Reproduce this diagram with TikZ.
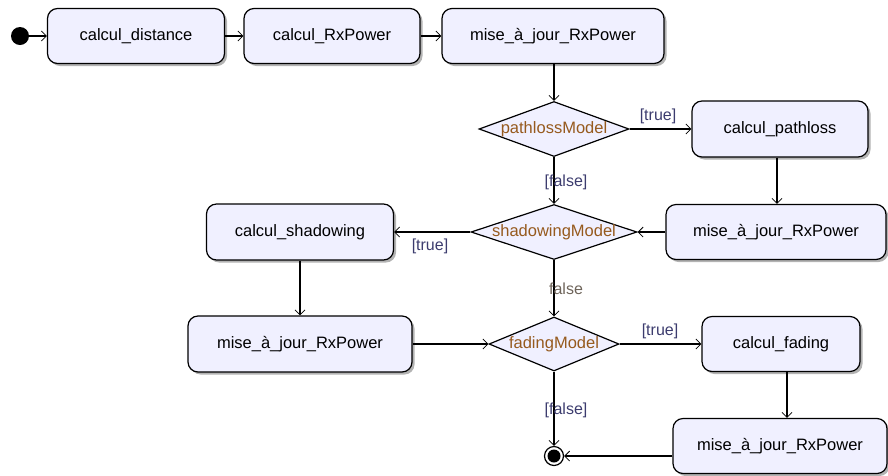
\documentclass[tikz,border=0pt]{standalone}
\usepackage{fontspec}
\setmainfont{Liberation Sans}
\usetikzlibrary{shapes.geometric,arrows.meta,shadows}
\definecolor{boxfill}{RGB}{240,240,255}
\definecolor{decis}{RGB}{150,90,30}
\definecolor{guard}{RGB}{60,60,110}
\definecolor{guardg}{RGB}{110,100,90}
\begin{document}
\begin{tikzpicture}[x=1pt,y=-1pt,
  box/.style={draw, line width=1.2pt, rounded corners=10pt, fill=boxfill,
    drop shadow={shadow xshift=2.5pt,shadow yshift=-2.5pt,fill=black!50,opacity=0.6},
    font=\fontsize{16.5}{19}\selectfont, inner sep=0pt, minimum height=55pt},
  decision/.style={draw, line width=1.2pt, diamond, fill=boxfill, inner sep=0pt,
    minimum height=55pt},
  dtext/.style={text=decis, font=\fontsize{16.5}{19}\selectfont, inner sep=0pt},
  arr/.style={line width=1.1pt, -{Straight Barb[length=5pt,width=10pt,line width=0.8pt]}},
  guardlbl/.style={font=\fontsize{16}{19}\selectfont, text=guard, inner sep=0pt}
]
\useasboundingbox (0,0) rectangle (888,475);

\fill (20,36) circle (9pt);
\node[circle, inner sep=0pt, minimum size=18pt] (ini) at (20,36) {};

\node[box, minimum width=177pt] (d) at (136,36) {calcul\_distance};
\node[box, minimum width=176pt] (rx) at (332,36) {calcul\_RxPower};
\node[box, minimum width=222pt] (m1) at (553,36) {mise\_à\_jour\_RxPower};

\node[decision, minimum width=150pt] (pl) at (554,129) {};
\node[dtext] at (pl) {pathlossModel};
\node[box, minimum width=176pt, minimum height=56pt] (cp) at (780,129) {calcul\_pathloss};
\node[box, minimum width=220pt] (m2) at (776,232) {mise\_à\_jour\_RxPower};

\node[decision, minimum width=166pt] (sh) at (554,232) {};
\node[dtext] at (sh) {shadowingModel};
\node[box, minimum width=187pt, minimum height=56pt] (cs) at (300,232) {calcul\_shadowing};
\node[box, minimum width=224pt, minimum height=56pt] (m3) at (300,344) {mise\_à\_jour\_RxPower};

\node[decision, minimum width=130pt, minimum height=54pt] (fa) at (554,344) {};
\node[dtext] at (fa) {fadingModel};
\node[box, minimum width=158pt] (cf) at (781,344) {calcul\_fading};
\node[box, minimum width=214pt] (m4) at (780,446) {mise\_à\_jour\_RxPower};

\node[circle, draw, line width=1.2pt, fill=white, inner sep=0pt, minimum size=19pt] (fin) at (554,456) {};
\fill (fin) circle (6.5pt);

\draw[arr] (ini) -- (d);
\draw[arr] (d) -- (rx);
\draw[arr] (rx) -- (m1);
\draw[arr] (m1.south -| pl) -- (pl);
\draw[arr] (pl) -- (cp);
\draw[arr] ([xshift=-3pt]cp.south) -- ([xshift=-3pt]cp.south |- m2.north);
\draw[arr] (m2) -- (sh);
\draw[arr] (pl) -- (sh);
\draw[arr] (sh) -- (cs);
\draw[arr] (cs) -- (m3.north -| cs);
\draw[arr] (m3) -- (fa);
\draw[arr] (sh) -- (fa);
\draw[arr] (fa) -- (cf);
\draw[arr] ([xshift=6pt]cf.south) -- ([xshift=6pt]cf.south |- m4.north);
\draw[arr] (fa) -- (fin);
\draw[arr] (fin -| m4.west) -- (fin);

\node[guardlbl] at (658,116) {[true]};
\node[guardlbl] at (566,182) {[false]};
\node[guardlbl] at (430,246) {[true]};
\node[guardlbl, text=guardg] at (566,289) {false};
\node[guardlbl] at (660,331) {[true]};
\node[guardlbl] at (566,410) {[false]};
\end{tikzpicture}
\end{document}
